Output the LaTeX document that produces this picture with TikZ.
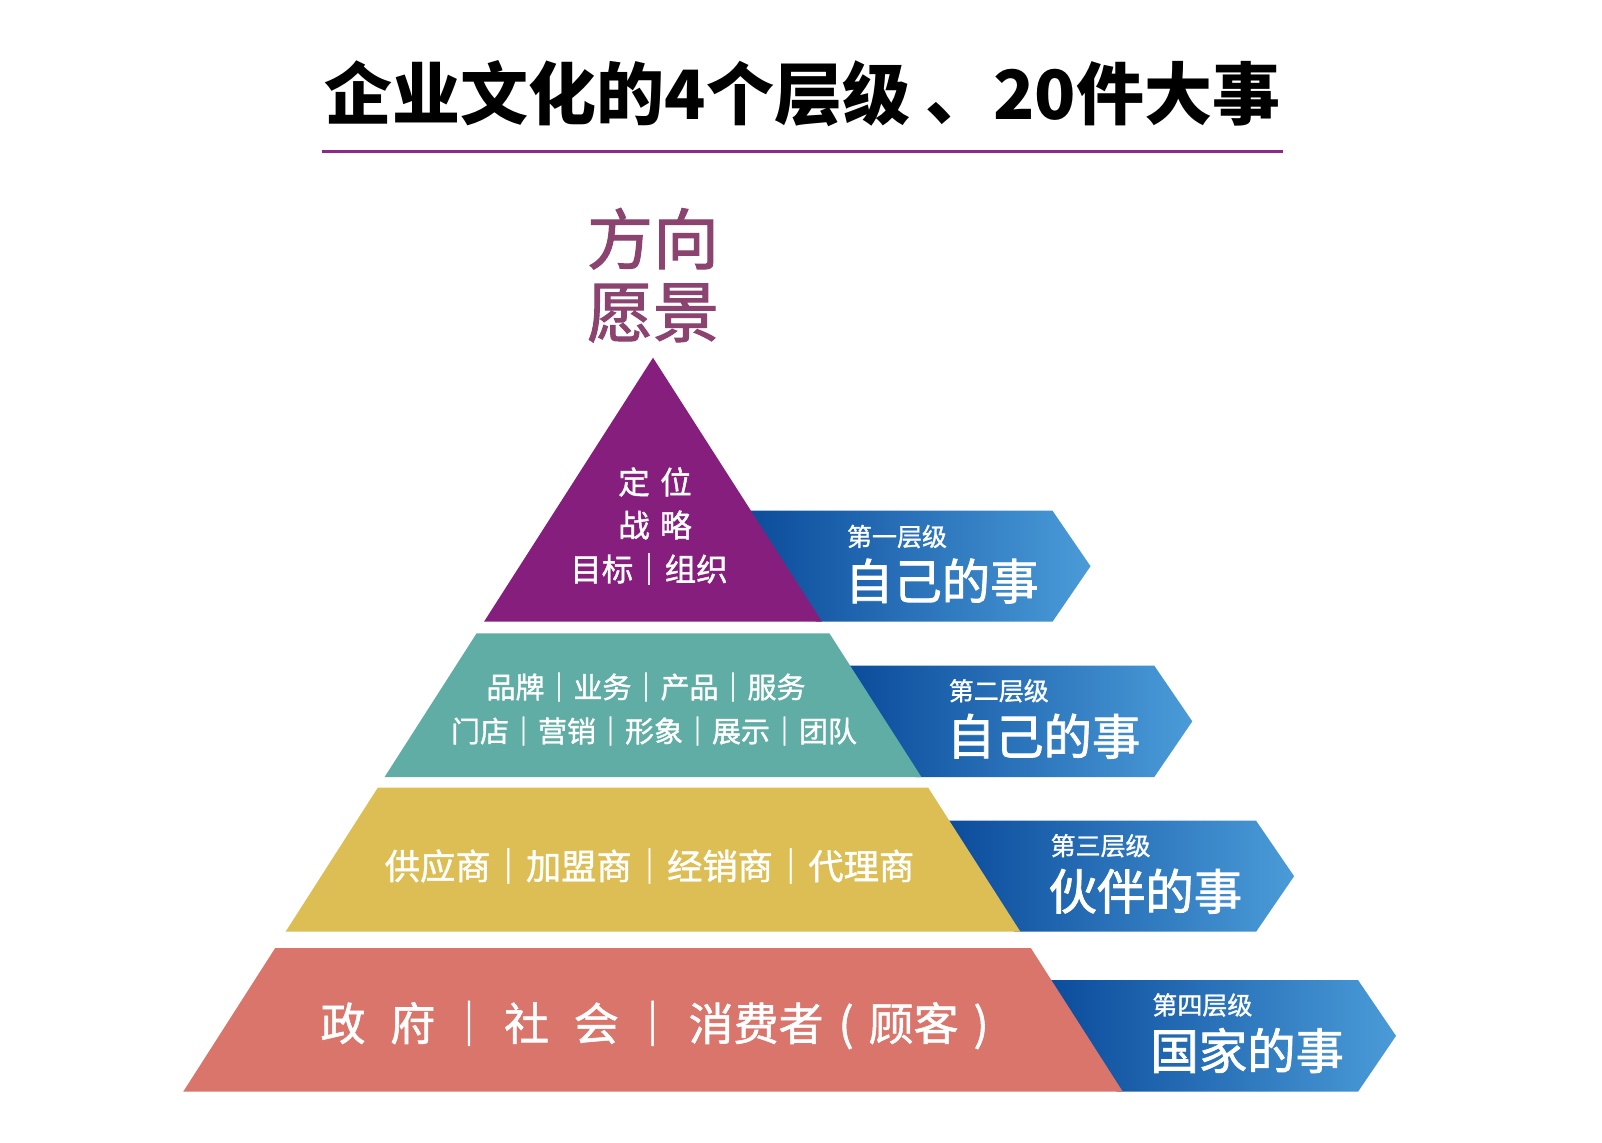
\documentclass[tikz,border=0pt]{standalone}
\usepackage{fontspec}
\setmainfont{Noto Sans CJK SC}
\newfontfamily\cjk{Noto Sans CJK SC}
\newfontfamily\cjkmed[FakeBold=1.2]{Noto Sans CJK SC}
\newfontfamily\cjkmedb[FakeBold=1.6]{Noto Sans CJK SC}
\definecolor{layerone}{HTML}{861E7E}
\definecolor{layertwo}{HTML}{5FADA5}
\definecolor{layerthree}{HTML}{DDBE54}
\definecolor{layerfour}{HTML}{DA756C}
\definecolor{bluedark}{HTML}{0B4B9B}
\definecolor{bluelight}{HTML}{4A9BD8}
\definecolor{titleline}{HTML}{8B2A88}
\definecolor{mauve}{HTML}{8B4470}
\begin{document}
\begin{tikzpicture}[x=0.5pt,y=-0.5pt,
  every node/.style={inner sep=0pt,outer sep=0pt},
  titletext/.style={font=\cjk\bfseries\fontsize{34pt}{40pt}\selectfont,text=black},
  toptext/.style={font=\cjkmedb\fontsize{33pt}{37pt}\selectfont,text=mauve},
  laytext/.style={text=white,align=center},
  smalllab/.style={font=\cjkmed\fontsize{12.5pt}{14pt}\selectfont,text=white,anchor=west},
  biglab/.style={font=\cjkmedb\fontsize{24.2pt}{28pt}\selectfont,text=white,anchor=west},
  chevron/.style={left color=bluedark,right color=bluelight,draw=none}]
\useasboundingbox (0,0) rectangle (1602,1142);
\fill[white] (0,0) rectangle (1602,1142);
% title
\node[titletext] (title) at (802.5,94) {企业文化的4个层级 、20件大事};
\coordinate (ulA) at (322,151.5);
\coordinate (ulB) at (1283,151.5);
\draw[titleline,line width=1.8pt] (ulA) -- (ulB);
% top words
\node[toptext] (fx) at (653,238.7) {方向};
\node[toptext] (yj) at (653,313) {愿景};
% arrows (behind the layers)
\shade[chevron] (745,510.7) -- (1052.5,510.7) -- (1090.5,566.2) -- (1052.5,621.7) -- (816,621.7) -- cycle;
\shade[chevron] (844,665.7) -- (1154.3,665.7) -- (1192.3,721.35) -- (1154.3,777) -- (915.4,777) -- cycle;
\shade[chevron] (943.3,820.7) -- (1256.1,820.7) -- (1294.1,876.2) -- (1256.1,931.7) -- (1014.4,931.7) -- cycle;
\shade[chevron] (1045.3,980) -- (1358,980) -- (1396,1035.85) -- (1358,1091.7) -- (1116.8,1091.7) -- cycle;
% layers
\fill[layerone] (653,357.7) -- (822.0,621.7) -- (484.0,621.7) -- cycle;
\fill[layertwo] (476.6,633.3) -- (829.4,633.3) -- (921.4,777) -- (384.6,777) -- cycle;
\fill[layerthree] (377.8,787.7) -- (928.2,787.7) -- (1020.4,931.7) -- (285.6,931.7) -- cycle;
\fill[layerfour] (275.2,948) -- (1030.8,948) -- (1122.8,1091.7) -- (183.2,1091.7) -- cycle;
% layer texts
\begin{scope}[font=\cjkmed\fontsize{15.75pt}{18pt}\selectfont]
\node[laytext] (t1a) at (655,482) {定\hspace{0.33em}位};
\node[laytext] (t1b) at (655,525) {战\hspace{0.33em}略};
\node[laytext] (t1c) at (649,569) {目标｜组织};
\end{scope}
\begin{scope}[font=\cjkmed\fontsize{14.5pt}{17pt}\selectfont]
\node[laytext] (t2a) at (646,687) {品牌｜业务｜产品｜服务};
\node[laytext] (t2b) at (654,731) {门店｜营销｜形象｜展示｜团队};
\end{scope}
\node[laytext,font=\cjkmed\fontsize{17.65pt}{20pt}\selectfont] (t3) at (649.5,866) {供应商｜加盟商｜经销商｜代理商};
\node[laytext,anchor=west,font=\cjkmed\fontsize{22.5pt}{25pt}\selectfont] (t4) at (320.5,1025) {政\hspace{0.55em}府\hspace{0.25em}｜\hspace{0.28em}社\hspace{0.55em}会\hspace{0.25em}｜\hspace{0.3em}消费者\makebox[1em]{(}顾客\makebox[1em]{)}};
% arrow labels
\node[smalllab] (s1) at (847,536.5) {第一层级};
\node[biglab] (b1) at (845,581) {自己的事};
\node[smalllab] (s2) at (948.8,690.8) {第二层级};
\node[biglab] (b2) at (946.8,736.2) {自己的事};
\node[smalllab] (s3) at (1050.6,845.7) {第三层级};
\node[biglab] (b3) at (1048.6,891.2) {伙伴的事};
\node[smalllab] (s4) at (1152.4,1005) {第四层级};
\node[biglab] (b4) at (1150.4,1050.5) {国家的事};
\end{tikzpicture}
\end{document}
